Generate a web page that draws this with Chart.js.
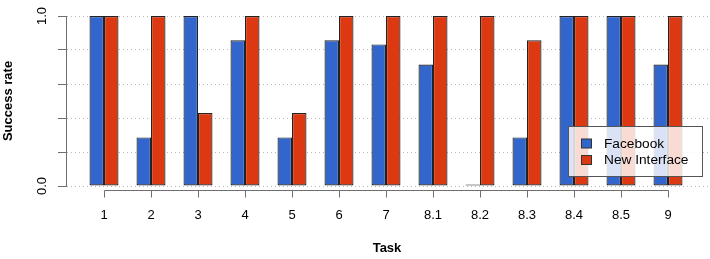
<!DOCTYPE html>
<html>
<head>
<meta charset="utf-8">
<script src="https://cdn.jsdelivr.net/npm/chart.js@4"></script>
<style>
  html, body { margin: 0; padding: 0; background: #fff; }
  canvas { display: block; }
</style>
</head>
<body>
<canvas id="c" width="710" height="259"></canvas>
<script>
const categories = ['1','2','3','4','5','6','7','8.1','8.2','8.3','8.4','8.5','9'];
const facebook = [1, 0.286, 1, 0.857, 0.286, 0.857, 0.833, 0.714, 0, 0.286, 1, 1, 0.714];
const newInterface = [1, 1, 0.429, 1, 0.429, 1, 1, 1, 1, 0.857, 1, 1, 1];
const yTickLabels = ['0.0', '', '', '', '', '1.0'];
const seriesNames = ['Facebook', 'New Interface'];
const seriesColors = ['#3366CC', '#DC3912'];

Chart.defaults.font.family = '"Liberation Sans", Arial, Helvetica, sans-serif';
Chart.defaults.color = '#000';

const axisColor = '#6e6e6e';

const xAxisLine = {
  id: 'xAxisLine',
  afterDraw(chart) {
    const {ctx, chartArea, scales: {x}} = chart;
    const y0 = chartArea.bottom + 4;
    ctx.save();
    ctx.strokeStyle = axisColor;
    ctx.lineWidth = 1;
    ctx.beginPath();
    const xa = Math.round(x.getPixelForValue(0)) + 0.5;
    const xb = Math.round(x.getPixelForValue(categories.length - 1)) + 0.5;
    ctx.moveTo(xa, y0 + 0.5);
    ctx.lineTo(xb, y0 + 0.5);
    categories.forEach((c, i) => {
      const px = Math.round(x.getPixelForValue(i)) + 0.5;
      ctx.moveTo(px, y0 + 0.5);
      ctx.lineTo(px, y0 + 7.5);
    });
    ctx.stroke();
    ctx.restore();
  }
};

const boxLegend = {
  id: 'boxLegend',
  afterDraw(chart) {
    const {ctx} = chart;
    ctx.save();
    ctx.fillStyle = 'rgba(255,255,255,0.82)';
    ctx.fillRect(568.5, 126.5, 134, 50);
    ctx.strokeStyle = '#555';
    ctx.lineWidth = 1;
    ctx.strokeRect(568.5, 126.5, 134, 50);
    ctx.font = '13.7px "Liberation Sans", Arial, Helvetica, sans-serif';
    ctx.textBaseline = 'middle';
    ctx.textAlign = 'left';
    chart.data.datasets.forEach((ds, i) => {
      const cy = 143.5 + i * 16.5;
      ctx.fillStyle = ds.backgroundColor;
      ctx.fillRect(581.5, cy - 4.5, 10, 9);
      ctx.strokeStyle = '#333';
      ctx.strokeRect(581.5, cy - 4.5, 10, 9);
      ctx.fillStyle = '#000';
      ctx.fillText(ds.label, 604, cy + 0.5);
    });
    ctx.restore();
  }
};

new Chart(document.getElementById('c'), {
  type: 'bar',
  data: {
    datasets: [
      {
        label: seriesNames[0],
        data: facebook.map((v, i) => ({x: i, y: v})),
        backgroundColor: seriesColors[0],
        borderColor: '#222',
        borderWidth: 1.2,
        borderSkipped: false,
        minBarLength: 1.5
      },
      {
        label: seriesNames[1],
        data: newInterface.map((v, i) => ({x: i, y: v})),
        backgroundColor: seriesColors[1],
        borderColor: '#222',
        borderWidth: 1.2,
        borderSkipped: false,
        minBarLength: 1.5
      }
    ]
  },
  options: {
    responsive: false,
    animation: false,
    devicePixelRatio: 1,
    categoryPercentage: 0.617,
    barPercentage: 1,
    layout: { padding: { top: 16, right: 2, left: 0, bottom: 0 } },
    plugins: {
      legend: { display: false },
      tooltip: { enabled: false }
    },
    scales: {
      x: {
        type: 'linear',
        offset: false,
        min: -38 / 47,
        max: 12 + 40 / 47,
        afterFit: s => { s.height = 73; },
        afterBuildTicks: s => { s.ticks = categories.map((c, i) => ({value: i})); },
        grid: { display: false, drawTicks: false, offset: false },
        border: { display: false },
        ticks: {
          padding: 21.5,
          autoSkip: false,
          maxRotation: 0,
          font: { size: 13 },
          color: '#000',
          callback: (v, i) => categories[i]
        },
        title: {
          display: true,
          text: 'Task',
          font: { size: 13, weight: 'bold' },
          color: '#000',
          padding: { top: 0, bottom: 2.5 }
        }
      },
      y: {
        min: 0,
        max: 1,
        afterFit: s => { s.width = 66; },
        afterBuildTicks: s => { s.ticks = yTickLabels.map((t, i) => ({value: i / (yTickLabels.length - 1)})); },
        grid: {
          color: '#b8b8b8',
          lineWidth: 1,
          drawTicks: true,
          tickLength: 8,
          tickColor: axisColor,
          tickBorderDash: []
        },
        border: { display: true, color: axisColor, width: 1, dash: [1, 3] },
        ticks: {
          minRotation: 90,
          maxRotation: 90,
          crossAlign: 'center',
          padding: 7,
          autoSkip: false,
          font: { size: 13 },
          color: '#000',
          callback: (v, i) => yTickLabels[i]
        },
        title: {
          display: true,
          text: 'Success rate',
          font: { size: 13, weight: 'bold' },
          color: '#000',
          padding: { top: 0.5, bottom: 0 }
        }
      }
    }
  },
  plugins: [xAxisLine, boxLegend]
});
</script>
</body>
</html>
